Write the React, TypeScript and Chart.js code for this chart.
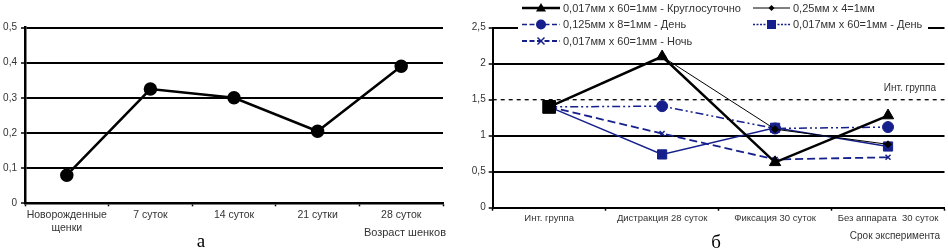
import React, { useEffect, useRef } from 'react';
import { Chart, registerables } from 'chart.js';
Chart.register(...registerables);

// ---------- Data: chart "а" ----------
const leftCategories: (string | string[])[] = [['Новорожденные', 'щенки'], '7 суток', '14 суток', '21 сутки', '28 суток'];
const leftValues = [0.08, 0.325, 0.3, 0.205, 0.39];
const leftTicks = [0, 0.1, 0.2, 0.3, 0.4, 0.5];
const leftAxisTitle = 'Возраст шенков';
const leftLetter = 'а';

// ---------- Data: chart "б" ----------
const rightCategories = ['Инт. группа', 'Дистракция 28 суток', 'Фиксация 30 суток', 'Без аппарата  30 суток'];
const rightTicks = [0, 0.5, 1, 1.5, 2, 2.5];
const seriesNames = [
  '0,017мм x 60=1мм - Круглосуточно',
  '0,25мм x 4=1мм',
  '0,125мм x 8=1мм - День',
  '0,017мм x 60=1мм - День',
  '0,017мм x 60=1мм - Ночь',
];
const s1Values = [1.4, 2.1, 0.63, 1.28];
const s2Values = [1.4, 2.1, 1.09, 0.88];
const s3Values = [1.4, 1.41, 1.1, 1.12];
const s4Values = [1.4, 0.74, 1.11, 0.85];
const s5Values = [1.4, 1.03, 0.67, 0.7];
const referenceValue = 1.5;
const referenceLabel = 'Инт. группа';
const rightAxisTitle = 'Срок эксперимента';
const rightLetter = 'б';

const FONT = "'Liberation Sans', Arial, sans-serif";
const SERIF = "'Liberation Serif', 'Times New Roman', serif";
const BLUE = '#16208c';
const TXT = '#333333';

const fmt = (v: number) => String(Math.round(v * 10) / 10).replace('.', ',');

function drawMarker(ctx: CanvasRenderingContext2D, style: string, x: number, y: number, r: number, color: string) {
  ctx.save();
  ctx.setLineDash([]);
  ctx.fillStyle = color;
  ctx.strokeStyle = color;
  ctx.lineWidth = 1.5;
  ctx.beginPath();
  if (style === 'triangle') {
    ctx.moveTo(x, y - r);
    ctx.lineTo(x + r, y + r * 0.7);
    ctx.lineTo(x - r, y + r * 0.7);
    ctx.closePath();
    ctx.fill();
  } else if (style === 'rectRot') {
    ctx.moveTo(x, y - r);
    ctx.lineTo(x + r, y);
    ctx.lineTo(x, y + r);
    ctx.lineTo(x - r, y);
    ctx.closePath();
    ctx.fill();
  } else if (style === 'circle') {
    ctx.arc(x, y, r, 0, Math.PI * 2);
    ctx.fill();
  } else if (style === 'rect') {
    ctx.fillRect(x - r, y - r, 2 * r, 2 * r);
  } else if (style === 'crossRot') {
    ctx.moveTo(x - r, y - r);
    ctx.lineTo(x + r, y + r);
    ctx.moveTo(x + r, y - r);
    ctx.lineTo(x - r, y + r);
    ctx.stroke();
  }
  ctx.restore();
}

function LeftChart() {
  const ref = useRef<HTMLCanvasElement>(null);
  useEffect(() => {
    const textPlugin = {
      id: 'leftText',
      afterDraw(chart: any) {
        const ctx = chart.ctx as CanvasRenderingContext2D;
        ctx.save();
        ctx.fillStyle = TXT;
        ctx.font = `11px ${FONT}`;
        ctx.textAlign = 'right';
        ctx.textBaseline = 'middle';
        ctx.fillText(leftAxisTitle, 446, 232.5);
        ctx.fillStyle = '#000';
        ctx.font = `19px ${SERIF}`;
        ctx.textAlign = 'center';
        ctx.textBaseline = 'alphabetic';
        ctx.fillText(leftLetter, 201, 247);
        ctx.restore();
      },
    };
    const chart = new Chart(ref.current!, {
      type: 'line',
      data: {
        labels: leftCategories as any,
        datasets: [
          {
            data: leftValues,
            borderColor: '#000',
            backgroundColor: '#000',
            borderWidth: 2.5,
            pointRadius: 5.5,
            pointBackgroundColor: '#000',
            pointBorderColor: '#000',
            tension: 0,
          },
        ],
      },
      options: {
        animation: false,
        responsive: false,
        events: [],
        layout: { autoPadding: false, padding: { left: 0, top: 27.5, right: 27, bottom: 0 } },
        plugins: { legend: { display: false }, tooltip: { enabled: false } },
        scales: {
          x: {
            type: 'category',
            offset: true,
            afterFit: (s: any) => { s.height = 46.7; },
            grid: { offset: true, drawOnChartArea: false, drawTicks: true, tickLength: 3, tickColor: '#000', tickWidth: 1.5 },
            border: { color: '#000', width: 2.5 },
            ticks: { color: TXT, font: { family: FONT, size: 10.5 }, padding: 3, maxRotation: 0, autoSkip: false },
          },
          y: {
            min: 0,
            max: 0.5,
            afterFit: (s: any) => { s.width = 25; },
            afterBuildTicks: (s: any) => { s.ticks = leftTicks.map((v) => ({ value: v })); },
            grid: { color: '#000', lineWidth: 2, drawTicks: true, tickLength: 4, tickColor: '#000', tickWidth: 1.5 },
            border: { color: '#000', width: 2.5 },
            ticks: { color: TXT, font: { family: FONT, size: 10 }, padding: 4, callback: (v: any) => fmt(Number(v)) },
          },
        },
      },
      plugins: [textPlugin],
    } as any);
    return () => chart.destroy();
  }, []);
  return (
    <canvas ref={ref} width={470} height={250} style={{ position: 'absolute', left: 0, top: 0, width: 470, height: 250 }} />
  );
}

function RightChart() {
  const ref = useRef<HTMLCanvasElement>(null);
  useEffect(() => {
    // r = Chart.js point radius; lr = half-size of the legend marker
    const styles = [
      { color: '#000', width: 2.5, dash: [] as number[], point: 'triangle', r: 6.5, lr: 5 },
      { color: '#000', width: 1, dash: [] as number[], point: 'rectRot', r: 3.5, lr: 3 },
      { color: BLUE, width: 1.5, dash: [8, 3, 2, 3, 2, 3], point: 'circle', r: 5.5, lr: 5 },
      { color: BLUE, width: 1.5, dash: [] as number[], point: 'rect', r: 6.5, lr: 4.5 },
      { color: BLUE, width: 1.8, dash: [8, 4], point: 'crossRot', r: 3.5, lr: 3.5 },
    ];
    const values = [s1Values, s2Values, s3Values, s4Values, s5Values];
    const datasets = values.map((vals, i) => {
      const st = styles[i];
      const isFirst = i === 0;
      return {
        label: seriesNames[i],
        data: vals,
        borderColor: st.color,
        backgroundColor: st.color,
        borderWidth: st.width,
        borderDash: st.dash,
        pointStyle: isFirst ? ['rect', 'triangle', 'triangle', 'triangle'] : st.point,
        pointRadius: isFirst ? [9, st.r, st.r, st.r] : st.r,
        pointBackgroundColor: st.color,
        pointBorderColor: st.color,
        pointBorderWidth: st.point === 'crossRot' ? 1.5 : 1,
        tension: 0,
      };
    });

    const legendLayout = [
      { idx: 0, x1: 52, x2: 90, tx: 93, y: 8 },
      { idx: 2, x1: 52, x2: 90, tx: 93, y: 24.5 },
      { idx: 4, x1: 52, x2: 90, tx: 93, y: 41 },
      { idx: 1, x1: 283, x2: 320, tx: 323, y: 8 },
      { idx: 3, x1: 283, x2: 320, tx: 323, y: 24.5 },
    ];

    const rightPlugin = {
      id: 'rightExtras',
      beforeDatasetsDraw(chart: any) {
        const ctx = chart.ctx as CanvasRenderingContext2D;
        const y = chart.scales.y.getPixelForValue(referenceValue);
        const a = chart.chartArea;
        ctx.save();
        ctx.strokeStyle = '#000';
        ctx.lineWidth = 1.3;
        ctx.setLineDash([4, 4]);
        ctx.beginPath();
        ctx.moveTo(a.left, y);
        ctx.lineTo(a.right, y);
        ctx.stroke();
        ctx.setLineDash([]);
        ctx.fillStyle = TXT;
        ctx.font = `10px ${FONT}`;
        ctx.textAlign = 'right';
        ctx.textBaseline = 'middle';
        ctx.fillText(referenceLabel, 466, y - 11);
        ctx.restore();
      },
      afterDatasetsDraw(chart: any) {
        // the first (black square) marker sits on top, as in the reference
        const meta = chart.getDatasetMeta(0);
        const p = meta.data[0];
        if (p) {
          const ctx = chart.ctx as CanvasRenderingContext2D;
          ctx.save();
          ctx.fillStyle = '#000';
          ctx.fillRect(p.x - 6.3, p.y - 6.3, 12.6, 12.6);
          ctx.restore();
        }
      },
      afterDraw(chart: any) {
        const ctx = chart.ctx as CanvasRenderingContext2D;
        ctx.save();
        // legend background
        ctx.fillStyle = '#fff';
        ctx.fillRect(48, 0, 410, 49);
        legendLayout.forEach((l) => {
          const st = styles[l.idx];
          ctx.save();
          ctx.strokeStyle = st.color;
          ctx.lineWidth = st.width;
          ctx.setLineDash(l.idx === 3 ? [2, 1.5] : st.dash.length ? [5, 2.5] : []);
          ctx.beginPath();
          ctx.moveTo(l.x1, l.y);
          ctx.lineTo(l.x2, l.y);
          ctx.stroke();
          ctx.restore();
          drawMarker(ctx, st.point, (l.x1 + l.x2) / 2, l.y, st.lr, st.color);
          ctx.fillStyle = TXT;
          ctx.font = `11px ${FONT}`;
          ctx.textAlign = 'left';
          ctx.textBaseline = 'middle';
          ctx.fillText(seriesNames[l.idx], l.tx, l.y + 0.5);
        });
        // axis title and letter
        ctx.fillStyle = TXT;
        ctx.font = `10px ${FONT}`;
        ctx.textAlign = 'right';
        ctx.textBaseline = 'middle';
        ctx.fillText(rightAxisTitle, 470, 236);
        ctx.fillStyle = '#000';
        ctx.font = `19px ${SERIF}`;
        ctx.textAlign = 'center';
        ctx.textBaseline = 'alphabetic';
        ctx.fillText(rightLetter, 246, 248);
        ctx.restore();
      },
    };

    const chart = new Chart(ref.current!, {
      type: 'line',
      data: { labels: rightCategories, datasets },
      options: {
        animation: false,
        responsive: false,
        events: [],
        layout: { autoPadding: false, padding: { left: 0, top: 27.7, right: 3.5, bottom: 0 } },
        plugins: { legend: { display: false }, tooltip: { enabled: false } },
        scales: {
          x: {
            type: 'category',
            offset: true,
            afterFit: (s: any) => { s.height = 42.3; },
            grid: { offset: true, drawOnChartArea: false, drawTicks: true, tickLength: 3, tickColor: '#000', tickWidth: 1.5 },
            border: { color: '#000', width: 2 },
            ticks: { color: TXT, font: { family: FONT, size: 9.5 }, padding: 2, maxRotation: 0, autoSkip: false },
          },
          y: {
            min: 0,
            max: 2.5,
            afterFit: (s: any) => { s.width = 22.7; },
            afterBuildTicks: (s: any) => { s.ticks = rightTicks.map((v) => ({ value: v })); },
            grid: {
              color: (c: any) => (c.tick && Math.abs(c.tick.value - referenceValue) < 1e-6 ? 'rgba(0,0,0,0)' : '#000'),
              lineWidth: 2,
              drawTicks: true,
              tickLength: 4,
              tickColor: '#000',
              tickWidth: 1.5,
            },
            border: { color: '#000', width: 2 },
            ticks: { color: TXT, font: { family: FONT, size: 10 }, padding: 3, callback: (v: any) => fmt(Number(v)) },
          },
        },
      },
      plugins: [rightPlugin],
    } as any);
    return () => chart.destroy();
  }, []);
  return (
    <canvas ref={ref} width={478} height={250} style={{ position: 'absolute', left: 470, top: 0, width: 478, height: 250 }} />
  );
}

export default function App() {
  return (
    <div style={{ position: 'absolute', left: 0, top: 0, width: 948, height: 250, background: '#fff', overflow: 'hidden' }}>
      <LeftChart />
      <RightChart />
    </div>
  );
}
